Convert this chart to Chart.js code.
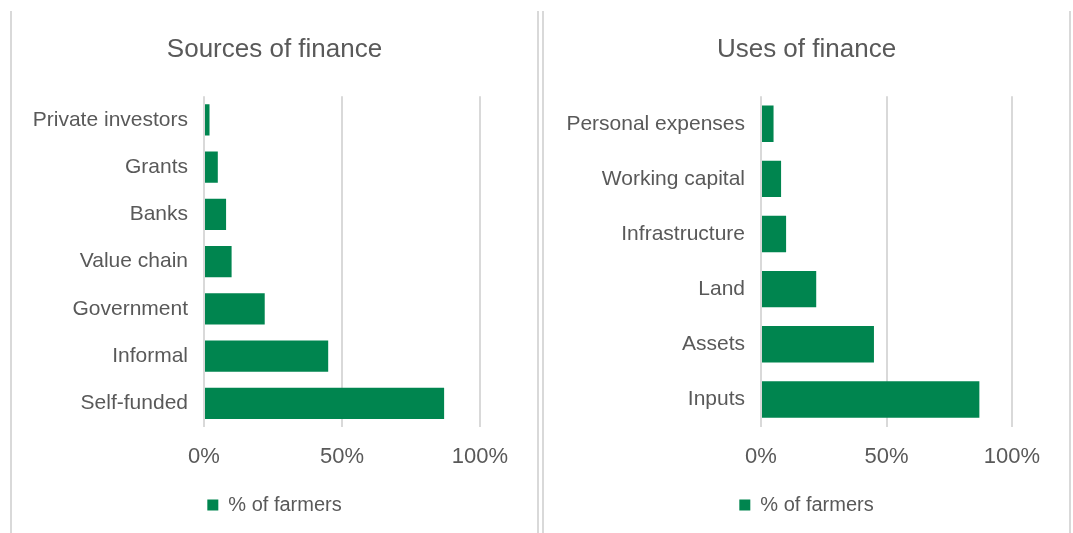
<!DOCTYPE html>
<html>
<head>
<meta charset="utf-8">
<script src="https://cdn.jsdelivr.net/npm/chart.js@4.4.1/dist/chart.umd.min.js"></script>
<style>
  body { margin: 0; background: #fff; width: 1073px; height: 533px; overflow: hidden; position: relative; }
  .rule { position: absolute; top: 11px; width: 2px; height: 522px; background: #d9d9d9; }
  canvas { position: absolute; top: 0; }
</style>
</head>
<body>
<div class="rule" style="left:10px"></div>
<div class="rule" style="left:537px"></div>
<div class="rule" style="left:542px"></div>
<div class="rule" style="left:1069px"></div>
<canvas id="sources" width="525" height="533" style="left:12px"></canvas>
<canvas id="uses" width="525" height="533" style="left:544px"></canvas>
<script>
var sourceLabels = ['Private investors', 'Grants', 'Banks', 'Value chain', 'Government', 'Informal', 'Self-funded'];
var sourceValues = [2, 5, 8, 10, 22, 45, 87];

var useLabels = ['Personal expenses', 'Working capital', 'Infrastructure', 'Land', 'Assets', 'Inputs'];
var useValues = [5, 8, 10, 22, 45, 87];

var xTicks = [0, 50, 100];
var seriesName = '% of farmers';

var green = '#00854f';
var textGray = '#595959';
var gridGray = '#d9d9d9';
var fontFamily = '"Liberation Sans", Arial, sans-serif';
var rightGap = 57;

function makeChart(id, title, labels, values, axisWidth) {
  var ctx = document.getElementById(id);
  return new Chart(ctx, {
    type: 'bar',
    data: {
      labels: labels,
      datasets: [{
        label: seriesName,
        data: values,
        backgroundColor: green,
        borderWidth: 0,
        categoryPercentage: 1,
        barPercentage: 0.66
      }]
    },
    options: {
      indexAxis: 'y',
      responsive: false,
      animation: false,
      devicePixelRatio: 1,
      layout: { padding: { left: 0, right: 0, top: 0, bottom: 8 } },
      plugins: {
        title: {
          display: true,
          text: title,
          color: textGray,
          font: { family: fontFamily, size: 26, weight: 'normal' },
          padding: { top: 34, bottom: 31 }
        },
        legend: {
          position: 'bottom',
          labels: {
            color: textGray,
            font: { family: fontFamily, size: 20 },
            boxWidth: 11,
            boxHeight: 11,
            padding: 10
          }
        },
        tooltip: { enabled: false }
      },
      scales: {
        x: {
          min: 0,
          max: 100,
          afterBuildTicks: function(scale) {
            scale.ticks = xTicks.map(function(v) { return { value: v }; });
          },
          afterFit: function(scale) { scale.height = 58; },
          ticks: {
            color: textGray,
            font: { family: fontFamily, size: 22 },
            padding: 17,
            maxRotation: 0,
            callback: function(v) { return v + '%'; }
          },
          grid: { color: gridGray, lineWidth: 2, drawTicks: false },
          border: { display: false }
        },
        y: {
          afterFit: function(scale) { scale.width = axisWidth; },
          ticks: {
            color: textGray,
            font: { family: fontFamily, size: 21 },
            padding: 16
          },
          grid: { display: false, drawTicks: false },
          border: { display: false }
        },
        // empty right-hand axis: leaves room for the "100%" label
        // while the title and legend stay centred on the canvas
        gap: {
          type: 'linear',
          axis: 'y',
          position: 'right',
          afterFit: function(scale) { scale.width = rightGap; },
          ticks: { display: false },
          grid: { display: false, drawTicks: false },
          border: { display: false }
        }
      }
    }
  });
}

makeChart('sources', 'Sources of finance', sourceLabels, sourceValues, 192);
makeChart('uses', 'Uses of finance', useLabels, useValues, 217);
</script>
</body>
</html>
